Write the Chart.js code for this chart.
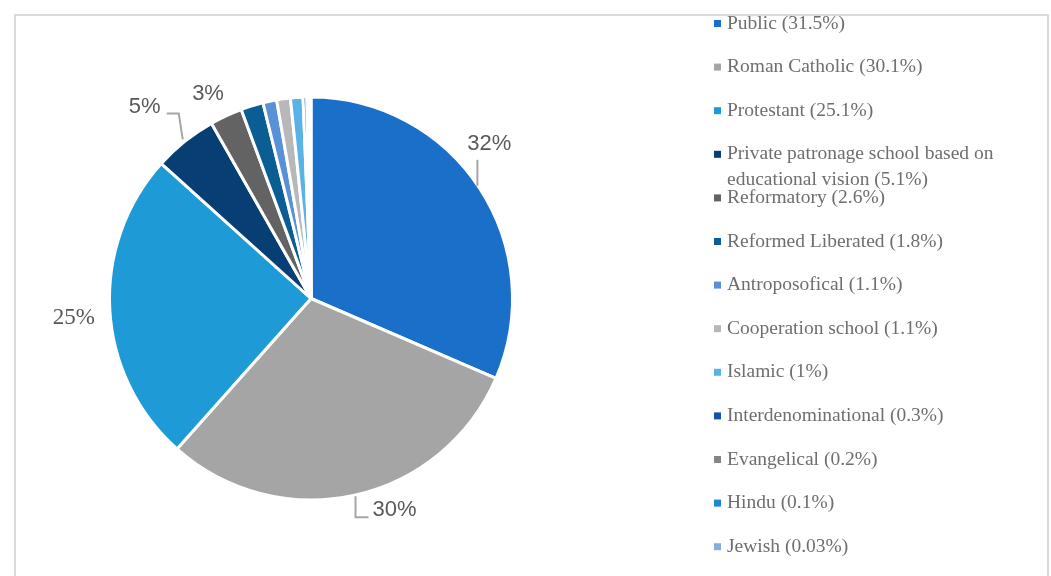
<!DOCTYPE html>
<html>
<head>
<meta charset="utf-8">
<style>
  html, body { margin: 0; padding: 0; background: #ffffff; }
  #wrap { width: 1051px; height: 576px; }
</style>
<script src="https://cdn.jsdelivr.net/npm/chart.js@4"></script>
</head>
<body>
<div id="wrap"><canvas id="c" width="1051" height="576"></canvas></div>
<script>
// ---- data ----
const categories = [
  'Public', 'Roman Catholic', 'Protestant',
  'Private patronage school based on educational vision',
  'Reformatory', 'Reformed Liberated', 'Antroposofical', 'Cooperation school',
  'Islamic', 'Interdenominational', 'Evangelical', 'Hindu', 'Jewish'
];
const shares = [31.5, 30.1, 25.1, 5.1, 2.6, 1.8, 1.1, 1.1, 1, 0.3, 0.2, 0.1, 0.03];
const sliceColors = [
  '#1a70c8', '#a5a5a5', '#1e9bd7', '#073f74', '#636363', '#0b5e94',
  '#5891d6', '#b8b8b8', '#5ab3e6', '#1256a0', '#858585', '#1a88d0', '#86aee0'
];
const legendLabels = categories.map((c, i) => c + ' (' + shares[i] + '%)');

// ---- styles for data labels (placement relative to slice outer-edge midpoint) ----
const labelStyle = {
  0: { dx: 10, dy: -44, font: '22px "Liberation Sans"', leader: [[-2, -2], [-2, -28]] },
  1: { dx: 40, dy: 15, font: '22px "Liberation Sans"', leader: [[1, 1], [1, 22], [14, 22]] },
  2: { dx: -36, dy: 8, font: '23px "Liberation Serif"', leader: null },
  3: { dx: -40, dy: -35, font: '22px "Liberation Sans"', leader: [[-2, -2], [-6, -28], [-18, -28]] },
  4: { dx: -18, dy: -22, font: '22px "Liberation Sans"', leader: null }
};

const framePlugin = {
  id: 'frame',
  beforeDraw(chart) {
    const ctx = chart.ctx;
    ctx.save();
    ctx.fillStyle = '#ffffff';
    ctx.fillRect(0, 0, chart.width, chart.height);
    ctx.strokeStyle = '#d9d9d9';
    ctx.lineWidth = 2;
    ctx.beginPath();
    ctx.moveTo(15, 600);
    ctx.lineTo(15, 15);
    ctx.lineTo(1048, 15);
    ctx.lineTo(1048, 600);
    ctx.stroke();
    ctx.restore();
  }
};

const labelPlugin = {
  id: 'sliceLabels',
  afterDatasetsDraw(chart) {
    const ctx = chart.ctx;
    const meta = chart.getDatasetMeta(0);
    ctx.save();
    meta.data.forEach((arc, i) => {
      const st = labelStyle[i];
      if (!st) return;
      const p = arc.getProps(['x', 'y', 'startAngle', 'endAngle', 'outerRadius'], true);
      const mid = (p.startAngle + p.endAngle) / 2;
      const ax = p.x + Math.cos(mid) * p.outerRadius;
      const ay = p.y + Math.sin(mid) * p.outerRadius;
      if (st.leader) {
        ctx.strokeStyle = '#a6a6a6';
        ctx.lineWidth = 2;
        ctx.beginPath();
        st.leader.forEach((pt, k) => {
          if (k === 0) ctx.moveTo(ax + pt[0], ay + pt[1]);
          else ctx.lineTo(ax + pt[0], ay + pt[1]);
        });
        ctx.stroke();
      }
      ctx.fillStyle = '#595959';
      ctx.font = st.font;
      ctx.textAlign = 'center';
      ctx.textBaseline = 'middle';
      ctx.fillText(Math.round(shares[i]) + '%', ax + st.dx, ay + st.dy);
    });
    ctx.restore();
  }
};

const legendPlugin = {
  id: 'sideLegend',
  afterDraw(chart) {
    const ctx = chart.ctx;
    ctx.save();
    const x0 = 714, tx = 727, y0 = 23.5, step = 43.6, maxW = 310, lineH = 26;
    ctx.font = '19.5px "Liberation Serif"';
    ctx.textBaseline = 'middle';
    ctx.textAlign = 'left';
    legendLabels.forEach((lab, i) => {
      const y = y0 + i * step;
      ctx.fillStyle = sliceColors[i];
      ctx.fillRect(x0, y - 3.5, 7, 7);
      ctx.fillStyle = '#6e6e6e';
      const words = lab.split(' ');
      let line = '', ly = y;
      words.forEach(w => {
        const test = line ? line + ' ' + w : w;
        if (ctx.measureText(test).width > maxW && line) {
          ctx.fillText(line, tx, ly);
          line = w;
          ly += lineH;
        } else {
          line = test;
        }
      });
      ctx.fillText(line, tx, ly);
    });
    ctx.restore();
  }
};

new Chart(document.getElementById('c'), {
  type: 'pie',
  data: {
    labels: categories,
    datasets: [{
      data: shares,
      backgroundColor: sliceColors,
      borderColor: '#ffffff',
      borderWidth: 3
    }]
  },
  options: {
    responsive: false,
    animation: false,
    events: [],
    layout: { padding: { left: 108, right: 537, top: 95, bottom: 74 } },
    plugins: {
      legend: { display: false },
      tooltip: { enabled: false }
    }
  },
  plugins: [framePlugin, labelPlugin, legendPlugin]
});
</script>
</body>
</html>
